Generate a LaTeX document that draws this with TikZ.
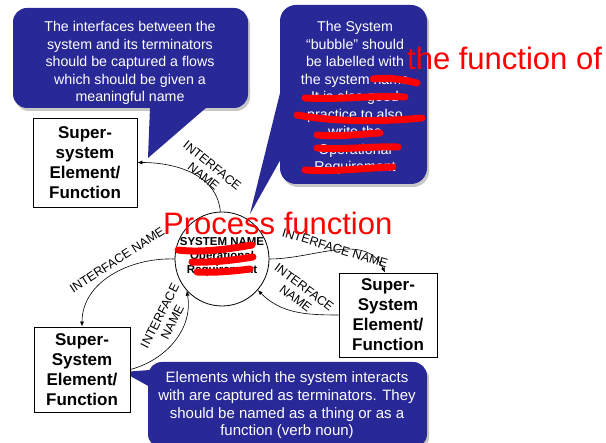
\documentclass[tikz,border=0pt]{standalone}
\usepackage{fontspec}
\setmainfont{Liberation Sans}
\usetikzlibrary{arrows.meta}
\definecolor{cblue}{RGB}{40,40,150}
\begin{document}
\begin{tikzpicture}[x=1pt,y=1pt,
  shadowfill/.style={fill=black, opacity=0.22},
  ctext/.style={text=white, align=center, inner sep=0},
  sbox/.style={draw, line width=0.8pt, fill=white, align=center, font=\bfseries\fontsize{17}{20}\selectfont, inner sep=0},
  flow/.style={line width=0.6pt, -{Latex[length=5pt,width=4pt]}},
  iname/.style={font=\fontsize{12.5}{14}\selectfont, align=center, inner sep=0},
  scrib/.style={red, line width=7pt, line cap=round},
  redtxt/.style={text=red, font=\fontsize{31}{31}\selectfont, inner sep=0}
]
\useasboundingbox (0,0) rectangle (606,443);

% callout 1
\fill[shadowfill, rounded corners=14] (15,332) rectangle (250,432);
\fill[cblue, rounded corners=14] (13,335) rectangle (248,435);
\fill[cblue] (150,336) -- (148,285) -- (207,336) -- cycle;
\node[ctext, font=\fontsize{14.2}{17.5}\selectfont] (t1) at (130,380)
  {The interfaces between the\\system and its terminators\\should be captured a flows\\which should be given a\\meaningful name};

% callout 2
\fill[shadowfill, rounded corners=16] (282,256) rectangle (429,435);
\fill[cblue, rounded corners=16] (280,259) rectangle (427,438);
\fill[cblue] (282,358) -- (250,229) -- (282,286) -- cycle;
\node[ctext, font=\fontsize{14.2}{17.5}\selectfont] (t2) at (355,345)
  {The System\\``bubble'' should\\be labelled with\\the system name\\It is also good\\practice to also\\write the\\Operational\\Requirement};

% callout 3
\fill[shadowfill, rounded corners=14] (150,-8) rectangle (429,78);
\fill[cblue, rounded corners=14] (148,-5) rectangle (427,81);
\fill[cblue] (150,73) -- (123,71) -- (150,56) -- cycle;
\node[ctext, font=\fontsize{15}{17.7}\selectfont] (t3) at (287,37.5)
  {Elements which the system interacts\\with are captured as terminators. They\\should be named as a thing or as a\\function (verb noun)};

% boxes
\node[sbox, minimum width=104, minimum height=89] (b1) at (85,280.5) {Super-\\system\\Element/\\Function};
\node[sbox, minimum width=98, minimum height=84] (b2) at (388,128) {Super-\\System\\Element/\\Function};
\node[sbox, minimum width=96, minimum height=85] (b3) at (82,73.5) {Super-\\System\\Element/\\Function};

% system bubble
\node[draw, circle, minimum size=94, inner sep=0, line width=0.8pt, fill=white] (c) at (222,184) {};
\node[font=\bfseries\fontsize{11.5}{14}\selectfont, align=center, inner sep=0] (ct) at (222,186) {SYSTEM NAME\\Operational\\Requirement};

% flows
\draw[flow] (c.92) to[out=95,in=0] (b1.east);
\draw[flow] (c.west) to[out=178,in=90] (b3.north);
\draw[flow] (b3.east) to[out=15,in=-80] (c.222);
\draw[flow] (c.east) to[out=0,in=115] ([xshift=-3pt]b2.north);
\draw[flow] (b2.west) to[out=180,in=-45] (c.-41);

% labels
\node[iname, rotate=-39] (l1) at (208,272) {INTERFACE\\NAME};
\node[iname, rotate=33] (l2) at (117,183) {INTERFACE NAME};
\node[iname, rotate=63] (l3) at (166,124) {INTERFACE\\NAME};
\node[iname, rotate=-17] (l4) at (335,195) {INTERFACE NAME};
\node[iname, rotate=-37] (l5) at (300,150) {INTERFACE\\NAME};

% red scribbles in callout 2
\draw[scrib] (373,364) .. controls (390,366) and (405,363) .. (417,360);
\draw[scrib] (305,345) .. controls (340,343) and (375,348) .. (405,346);
\draw[scrib] (297,328) .. controls (340,320) and (390,322) .. (422,325);
\draw[scrib] (317,308) .. controls (340,306) and (360,309) .. (380,310);
\draw[scrib] (317,295) .. controls (345,293) and (375,297) .. (398,296);
\draw[scrib] (305,273) .. controls (335,271) and (365,275) .. (393,276);
% red scribbles in bubble
\draw[scrib] (178,193) .. controls (200,190) and (230,194) .. (252,198);
\draw[scrib] (192,181) .. controls (210,180) and (235,183) .. (253,186);
\draw[scrib] (197,171) .. controls (215,170) and (235,172) .. (250,174);

% red text
\node[redtxt, anchor=base west] (r1) at (407,373) {the function of};
\node[redtxt, anchor=base west] (r2) at (163,208) {Process function};
\end{tikzpicture}
\end{document}
